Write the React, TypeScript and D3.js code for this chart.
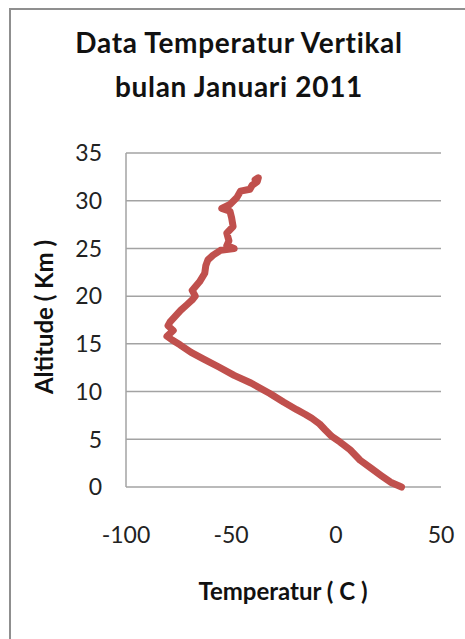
import React from "react";
import * as d3 from "d3";

// Vertical temperature profile, January 2011 (altitude in km, temperature in °C)
const altitudeKm: number[] = [
  0.0, 0.5, 1.2, 2.0, 2.8, 3.9, 4.7, 5.3, 6.0, 6.6, 7.2, 7.6, 8.1, 8.9, 9.8, 10.9,
  11.7, 12.6, 13.4, 14.1, 14.9, 15.4, 15.8, 16.0, 16.4, 16.9, 17.3, 17.9, 18.5,
  19.1, 19.6, 20.0, 20.6, 21.5, 22.4, 23.2, 23.8, 24.3, 24.8, 25.0, 25.3, 25.8,
  26.6, 27.3, 28.2, 28.9, 29.2, 29.6, 30.3, 31.0, 31.2, 31.6, 32.0, 32.4, 32.2,
];
const temperatureC: number[] = [
  31.2, 26, 21.5, 16.5, 11.5, 6.7, 2.0, -2, -5.2, -7.8, -11.5, -14.5, -18.7, -25,
  -31.5, -40.5, -48.5, -56, -63, -69, -74.3, -78, -80.5, -79.5, -77.5, -80, -79,
  -76.5, -74, -71, -68.5, -67, -68.5, -65, -62.5, -62, -61, -58.5, -55, -48.5,
  -52, -51, -52, -49, -49.7, -50.5, -54.4, -50.5, -47.3, -45.5, -41, -40,
  -37.5, -37, -38.5,
];

const xTicks: number[] = [-100, -50, 0, 50];
const yTicks: number[] = [0, 5, 10, 15, 20, 25, 30, 35];

const titleLines: string[] = ["Data Temperatur Vertikal", "bulan Januari  2011"];
const xTitle = "Temperatur ( C )";
const yTitle = "Altitude ( Km )";

const W = 465;
const H = 639;
const plot = { left: 126, right: 441, top: 153, bottom: 487 };
const font = "Lato, 'Open Sans', sans-serif";

export default function App() {
  const x = d3.scaleLinear().domain([-100, 50]).range([plot.left, plot.right]);
  const y = d3.scaleLinear().domain([0, 35]).range([plot.bottom, plot.top]);

  const points: [number, number][] = altitudeKm.map((a, i) => [temperatureC[i], a]);
  const line = d3
    .line<[number, number]>()
    .x((d) => x(d[0]))
    .y((d) => y(d[1]));

  return (
    <svg
      width={W}
      height={H}
      style={{ position: "absolute", left: 0, top: 0, background: "#fff" }}
      fontFamily={font}
    >
      <rect x={0} y={0} width={W} height={H} fill="#fff" />
      {/* chart frame */}
      <path d={`M10,${H + 5} L10,9 L${W + 5},9`} fill="none" stroke="#8f8f8f" strokeWidth={2} />

      {/* title */}
      {titleLines.map((t, i) => (
        <text
          key={t}
          x={239}
          y={53 + i * 44}
          textAnchor="middle"
          fontSize={28}
          fontWeight={700}
          letterSpacing={0.7}
          fill="#111"
        >
          {t}
        </text>
      ))}

      {/* horizontal gridlines */}
      {yTicks.map((v) => (
        <line
          key={`g${v}`}
          x1={plot.left}
          x2={plot.right}
          y1={y(v)}
          y2={y(v)}
          stroke="#a3a3a3"
          strokeWidth={1.5}
        />
      ))}
      {/* left axis */}
      <line x1={plot.left} x2={plot.left} y1={plot.top} y2={plot.bottom} stroke="#a3a3a3" strokeWidth={1.5} />

      {/* y tick labels */}
      {yTicks.map((v) => (
        <text
          key={`yt${v}`}
          x={102}
          y={y(v)}
          dy="0.36em"
          textAnchor="end"
          fontSize={23}
          fill="#222"
        >
          {v}
        </text>
      ))}
      {/* x tick labels */}
      {xTicks.map((v) => (
        <text key={`xt${v}`} x={x(v)} y={543} textAnchor="middle" fontSize={23} fill="#222">
          {v}
        </text>
      ))}

      {/* axis titles */}
      <text x={283} y={600} textAnchor="middle" fontSize={24} fontWeight={700} fill="#111">
        {xTitle}
      </text>
      <text
        transform={`translate(53,317) rotate(-90)`}
        textAnchor="middle"
        fontSize={24}
        fontWeight={700}
        fill="#111"
      >
        {yTitle}
      </text>

      {/* temperature profile */}
      <path
        d={line(points) || ""}
        fill="none"
        stroke="#c0504d"
        strokeWidth={7}
        strokeLinejoin="round"
        strokeLinecap="round"
      />
    </svg>
  );
}
